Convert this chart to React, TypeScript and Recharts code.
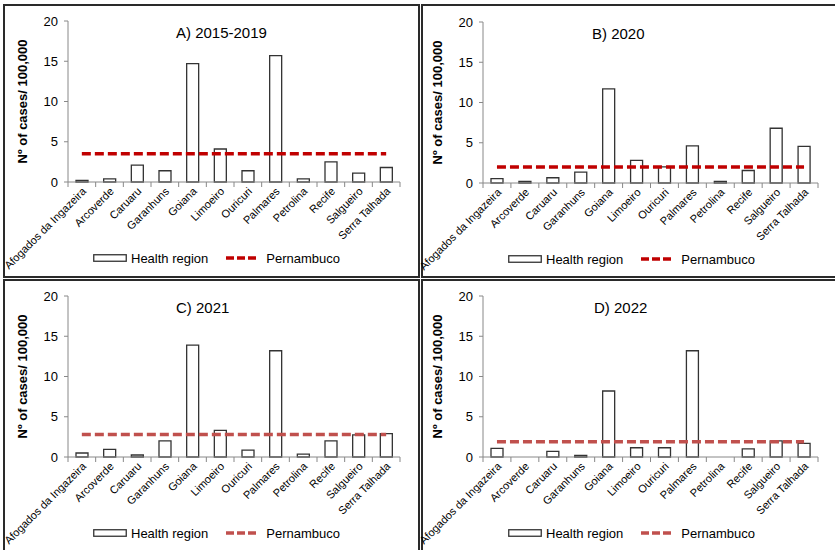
import React from 'react';
import { ComposedChart, Bar, Line, XAxis, YAxis, Legend } from 'recharts';

const regions = [
  'Afogados da Ingazeira', 'Arcoverde', 'Caruaru', 'Garanhuns', 'Goiana', 'Limoeiro',
  'Ouricuri', 'Palmares', 'Petrolina', 'Recife', 'Salgueiro', 'Serra Talhada',
];
const yTicks = [0, 5, 10, 15, 20];

const rate2015_2019 = [0.2, 0.4, 2.1, 1.4, 14.7, 4.1, 1.4, 15.7, 0.4, 2.5, 1.1, 1.8];
const pe2015_2019 = 3.5;
const rate2020 = [0.55, 0.2, 0.65, 1.35, 11.7, 2.8, 2.0, 4.6, 0.2, 1.55, 6.8, 4.55];
const pe2020 = 2.0;
const rate2021 = [0.5, 0.95, 0.25, 2.0, 13.9, 3.3, 0.85, 13.2, 0.35, 2.0, 2.75, 2.9];
const pe2021 = 2.8;
const rate2022 = [1.07, 0, 0.7, 0.2, 8.2, 1.15, 1.15, 13.2, 0, 1.0, 2.0, 1.7];
const pe2022 = 1.9;

const titles = ['A) 2015-2019', 'B) 2020', 'C) 2021', 'D) 2022'];
const yLabel = 'Nº of cases/ 100,000';
const seriesNames = ['Health region', 'Pernambuco'];

const FONT = '"Liberation Sans", Arial, sans-serif';
const AXIS = '#888888';

const buildData = (rates: number[], pe: number) =>
  regions.map((r, i) => ({ region: r, rate: rates[i], pe }));

const makeTick = (bw: number, n: number) => (props: any) => {
  const { x, y, payload, index } = props;
  const tx = x + 5;
  const ty = y + 10;
  return (
    <g>
      <line x1={x - bw / 2} y1={y} x2={x - bw / 2} y2={y + 5} stroke={AXIS} strokeWidth={1} />
      {index === n - 1 && (
        <line x1={x + bw / 2} y1={y} x2={x + bw / 2} y2={y + 5} stroke={AXIS} strokeWidth={1} />
      )}
      <text
        x={tx}
        y={ty}
        transform={`rotate(-45, ${tx}, ${ty})`}
        textAnchor="end"
        fontSize={11}
        fontFamily={FONT}
        fill="#000"
      >
        {payload.value}
      </text>
    </g>
  );
};

const LegendContent = ({ color }: { color: string }) => (
  <div
    style={{
      display: 'flex',
      alignItems: 'center',
      height: 18,
      fontSize: 13,
      fontFamily: FONT,
      color: '#000',
      whiteSpace: 'nowrap',
    }}
  >
    <svg width={34} height={8} style={{ display: 'block' }}>
      <rect x={0.75} y={0.75} width={32.5} height={6.5} fill="#fff" stroke="#333" strokeWidth={1.3} />
    </svg>
    <span style={{ marginLeft: 4 }}>{seriesNames[0]}</span>
    <svg width={30} height={8} style={{ display: 'block', marginLeft: 18 }}>
      <line x1={0} y1={4} x2={30} y2={4} stroke={color} strokeWidth={3.5} strokeDasharray="8 3" />
    </svg>
    <span style={{ marginLeft: 10 }}>{seriesNames[1]}</span>
  </div>
);

type PanelProps = {
  left: number;
  top: number;
  width: number;
  title: string;
  titleLeft: number;
  rates: number[];
  pe: number;
  color: string;
};

const CH = 273;
const YW = 65;
const MR = 19;

const Panel = ({ left, top, width, title, titleLeft, rates, pe, color }: PanelProps) => {
  const data = buildData(rates, pe);
  const plotW = width - YW - MR;
  const bw = plotW / regions.length;
  return (
    <div style={{ position: 'absolute', left, top, width, height: CH }}>
      <ComposedChart
        width={width}
        height={CH}
        data={data}
        margin={{ top: 17, right: MR, left: 0, bottom: 10 }}
      >
        <XAxis
          dataKey="region"
          interval={0}
          height={67}
          tickSize={0}
          tickMargin={0}
          tickLine={false}
          axisLine={{ stroke: AXIS, strokeWidth: 1 }}
          tick={makeTick(bw, regions.length)}
        />
        <YAxis
          width={YW}
          domain={[0, 20]}
          ticks={yTicks}
          interval={0}
          tickSize={4}
          tickMargin={6}
          axisLine={{ stroke: AXIS, strokeWidth: 1 }}
          tickLine={{ stroke: AXIS, strokeWidth: 1 }}
          tick={{ fontSize: 13, fontFamily: FONT, fill: '#000' }}
          label={{
            content: (p: any) => {
              const vb = p.viewBox || {};
              const cx = 23.5;
              const cy = (vb.y || 0) + (vb.height || 0) / 2;
              return (
                <text
                  x={cx}
                  y={cy}
                  transform={`rotate(-90, ${cx}, ${cy})`}
                  textAnchor="middle"
                  fontSize={13}
                  fontWeight="bold"
                  fontFamily={FONT}
                  fill="#000"
                >
                  {yLabel}
                </text>
              );
            },
          }}
        />
        <Legend
          verticalAlign="bottom"
          height={18}
          wrapperStyle={{ left: 90, width: 260, bottom: 10 }}
          content={() => <LegendContent color={color} />}
        />
        <Bar
          dataKey="rate"
          name={seriesNames[0]}
          barSize={12}
          fill="#ffffff"
          stroke="#333333"
          strokeWidth={1.3}
          isAnimationActive={false}
        />
        <Line
          dataKey="pe"
          name={seriesNames[1]}
          type="linear"
          stroke={color}
          strokeWidth={3.5}
          strokeDasharray="9 4"
          dot={false}
          activeDot={false}
          isAnimationActive={false}
        />
      </ComposedChart>
      <div
        style={{
          position: 'absolute',
          left: titleLeft,
          top: 21,
          fontSize: 15,
          lineHeight: '15px',
          fontFamily: FONT,
          color: '#000',
          whiteSpace: 'nowrap',
        }}
      >
        {title}
      </div>
    </div>
  );
};

const Frame = ({ left, top, width, height }: { left: number; top: number; width: number; height: number }) => (
  <div
    style={{
      position: 'absolute',
      left,
      top,
      width,
      height,
      border: '2px solid #2a2a2a',
      boxSizing: 'border-box',
    }}
  />
);

export default function App() {
  return (
    <div
      style={{
        position: 'absolute',
        left: 0,
        top: 0,
        width: 835,
        height: 550,
        background: '#fff',
        overflow: 'hidden',
      }}
    >
      <style>{'.recharts-surface { overflow: visible; }'}</style>
      <Frame left={3} top={4} width={417} height={274} />
      <Frame left={421} top={4} width={420} height={274} />
      <Frame left={3} top={279} width={417} height={280} />
      <Frame left={421} top={279} width={420} height={280} />
      <Panel left={3} top={4} width={416} title={titles[0]} titleLeft={173} rates={rate2015_2019} pe={pe2015_2019} color="#C00000" />
      <Panel left={418} top={5} width={419} title={titles[1]} titleLeft={174} rates={rate2020} pe={pe2020} color="#C00000" />
      <Panel left={3} top={279} width={416} title={titles[2]} titleLeft={173} rates={rate2021} pe={pe2021} color="#C0504D" />
      <Panel left={418} top={279} width={419} title={titles[3]} titleLeft={176} rates={rate2022} pe={pe2022} color="#C0504D" />
    </div>
  );
}
